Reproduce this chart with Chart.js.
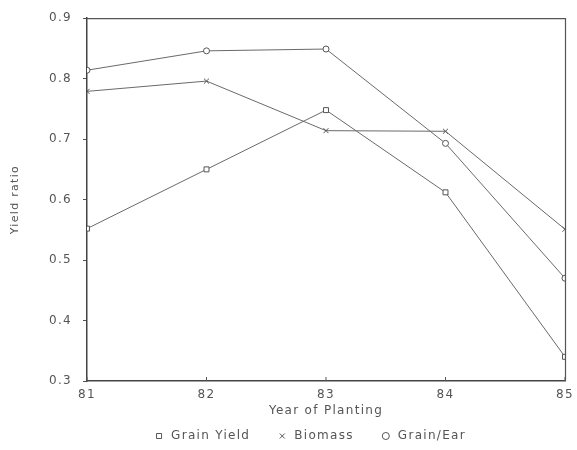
<!DOCTYPE html>
<html>
<head>
<meta charset="utf-8">
<script src="https://cdn.jsdelivr.net/npm/chart.js@4"></script>
<style>
html,body{margin:0;padding:0;background:#fff;}
#wrap{width:577px;height:450px;}
</style>
</head>
<body>
<div id="wrap"><canvas id="c" width="577" height="450"></canvas></div>
<script>
const years = [81, 82, 83, 84, 85];
const grainYield = [0.552, 0.650, 0.748, 0.612, 0.340];
const biomass = [0.779, 0.796, 0.714, 0.713, 0.551];
const grainEar = [0.814, 0.846, 0.849, 0.693, 0.470];
const yTicks = [0.3, 0.4, 0.5, 0.6, 0.7, 0.8, 0.9];
const xTicks = years;

const ink = '#555';
const lineCol = '#6a6a6a';

function pts(vals){ return years.map((x,i)=>({x:x,y:vals[i]})); }

function setSpacing(chart){ chart.ctx.letterSpacing = '1.3px'; }
const spacingPlugin = {
  id:'spacing',
  beforeInit: setSpacing,
  beforeUpdate: setSpacing,
  beforeLayout: setSpacing,
  beforeDraw: setSpacing
};
const framePlugin = {
  id:'frame',
  afterDraw(chart){
    const a = chart.chartArea, ctx = chart.ctx;
    ctx.save();
    ctx.strokeStyle = '#555';
    ctx.lineWidth = 1.2;
    ctx.beginPath();
    ctx.moveTo(a.left, a.top+0.5); ctx.lineTo(a.right+0.5, a.top+0.5); ctx.lineTo(a.right+0.5, a.bottom);
    ctx.stroke();
    const xs = chart.scales.x;
    ctx.lineWidth = 1;
    xs.ticks.forEach(t=>{
      const px = xs.getPixelForValue(t.value);
      ctx.beginPath(); ctx.moveTo(px, a.bottom); ctx.lineTo(px, a.bottom-4); ctx.stroke();
    });
    ctx.restore();
  }
};
const shiftLayout = {
  id:'shiftLayout',
  afterLayout(chart){
    const l = chart.legend;
    if(l){ l.left += 27; l.right += 27; l.top += 2; l.bottom += 2; }
    chart.scales.x.bottom += 16;
  }
};

new Chart(document.getElementById('c'), {
  type:'line',
  data:{
    datasets:[
      {label:'Grain Yield', data:pts(grainYield), pointStyle:'rect', pointRadius:3.5, borderColor:lineCol, pointBorderColor:'#555', pointBackgroundColor:'#fff', borderWidth:1, pointBorderWidth:1, tension:0},
      {label:'Biomass', data:pts(biomass), pointStyle:'crossRot', pointRadius:3.5, borderColor:lineCol, pointBorderColor:'#555', pointBackgroundColor:'#fff', borderWidth:1, pointBorderWidth:1, tension:0},
      {label:'Grain/Ear', data:pts(grainEar), pointStyle:'circle', pointRadius:3, borderColor:lineCol, pointBorderColor:'#555', pointBackgroundColor:'#fff', borderWidth:1, pointBorderWidth:1, tension:0}
    ]
  },
  options:{
    responsive:false,
    animation:false,
    layout:{padding:{top:18,right:12,left:0,bottom:0}},
    plugins:{
      legend:{
        position:'bottom',
        labels:{usePointStyle:true, boxWidth:12, boxHeight:5, padding:26, color:ink,
          font:{family:'DejaVu Sans', size:12}}
      },
      tooltip:{enabled:false}
    },
    scales:{
      x:{
        type:'linear', min:81, max:85,
        afterBuildTicks(s){ s.ticks = xTicks.map(v=>({value:v})); },
        afterFit(s){ s.height = 21; s.paddingRight = 0; s.paddingLeft = 0; },
        grid:{drawOnChartArea:false, drawTicks:false, color:'#555'},
        border:{color:'#444', width:1.5},
        ticks:{color:ink, padding:7, font:{family:'DejaVu Sans', size:12}, callback:v=>String(v)},
        title:{display:true, text:'Year of Planting', color:ink, font:{family:'DejaVu Sans', size:12}, padding:{top:2,bottom:0}}
      },
      y:{
        min:0.3, max:0.9,
        afterBuildTicks(s){ s.ticks = yTicks.map(v=>({value:v})); },
        afterFit(s){ s.width = 87; },
        grid:{drawOnChartArea:false, tickLength:4, color:'#555'},
        border:{color:'#444', width:1.5},
        ticks:{color:ink, padding:11, font:{family:'DejaVu Sans', size:12}, callback:v=>Number(v).toFixed(1)},
        title:{display:true, text:'Yield ratio', color:ink, font:{family:'DejaVu Sans', size:11}, padding:{top:9,bottom:0}}
      }
    }
  },
  plugins:[spacingPlugin, framePlugin, shiftLayout]
});
</script>
</body>
</html>
